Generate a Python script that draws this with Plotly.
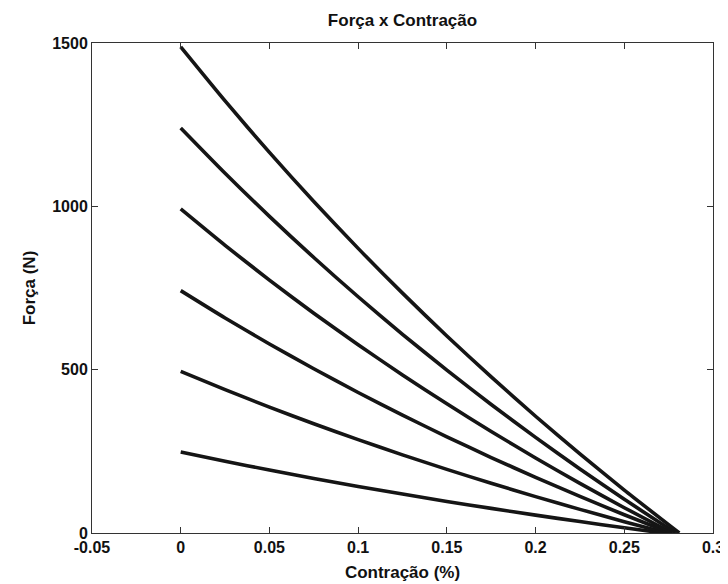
import plotly.graph_objects as go

# Contraction values (x) common to the curves
contracao = [0, 0.025, 0.05, 0.075, 0.1, 0.125, 0.15, 0.175, 0.2, 0.225, 0.25]

# End point (force = 0) contraction for each curve
fim = [0.272, 0.274, 0.276, 0.277, 0.279, 0.281]

forca_250 = [248, 219.7, 192.8, 167.1, 142.6, 119.1, 96.7, 75.3, 54.7, 35.0, 16.0]
forca_500 = [495, 438.9, 385.4, 334.4, 285.8, 239.3, 194.8, 152.2, 111.4, 72.3, 34.7]
forca_750 = [742, 658.3, 578.6, 502.7, 430.1, 360.8, 294.6, 231.1, 170.3, 111.9, 55.9]
forca_1000 = [992, 880.5, 774.2, 672.9, 576.3, 483.9, 395.5, 310.9, 229.8, 152.0, 77.4]
forca_1250 = [1240, 1101.4, 969.3, 843.4, 723.2, 608.4, 498.6, 393.4, 292.6, 195.9, 103.1]
forca_1500 = [1488, 1322.6, 1165.0, 1014.7, 871.3, 734.3, 603.2, 477.7, 357.4, 242.1, 131.3]

series = [forca_250, forca_500, forca_750, forca_1000, forca_1250, forca_1500]

x_tickvals = [-0.05, 0, 0.05, 0.1, 0.15, 0.2, 0.25, 0.3]
x_ticktext = ["-0.05", "0", "0.05", "0.1", "0.15", "0.2", "0.25", "0.3"]
y_tickvals = [0, 500, 1000, 1500]
y_ticktext = ["0", "500", "1000", "1500"]

fig = go.Figure()
for ys, xe in zip(series, fim):
    fig.add_trace(go.Scatter(
        x=contracao + [xe], y=ys + [0],
        mode="lines",
        line=dict(color="#151515", width=3.6, shape="spline", smoothing=0.6),
        showlegend=False, hoverinfo="skip",
    ))

tick_font = dict(family="Liberation Sans, Arial, sans-serif", size=16, color="#111111", weight="bold")
title_font = dict(family="Liberation Sans, Arial, sans-serif", size=17, color="#111111", weight="bold")

# The page body has an 8px default margin, so the figure is 8px smaller
W, H = 720, 576
fig.update_layout(
    width=W, height=H,
    margin=dict(l=84, r=15, t=35, b=51),
    paper_bgcolor="white", plot_bgcolor="white",
    font=tick_font,
    title=dict(text="Força x Contração", x=0.5, xref="paper", xanchor="center",
               y=1 - 12 / H, yanchor="middle", font=title_font, automargin=False),
    xaxis=dict(
        range=[-0.05, 0.3], tickvals=x_tickvals, ticktext=x_ticktext,
        showgrid=False, zeroline=False, showline=True, linecolor="#333333", linewidth=1,
        mirror="ticks", ticks="inside", ticklen=6, tickcolor="#333333",
        tickfont=tick_font, automargin=False,
        title=dict(text="Contração (%)", font=title_font, standoff=10),
    ),
    yaxis=dict(
        range=[0, 1500], tickvals=y_tickvals, ticktext=y_ticktext,
        showgrid=False, zeroline=False, showline=True, linecolor="#333333", linewidth=1,
        mirror="ticks", ticks="inside", ticklen=6, tickcolor="#333333",
        tickfont=tick_font, automargin=False,
        title=dict(text="Força (N)", font=title_font, standoff=12),
    ),
)

fig.write_html("out.html")
